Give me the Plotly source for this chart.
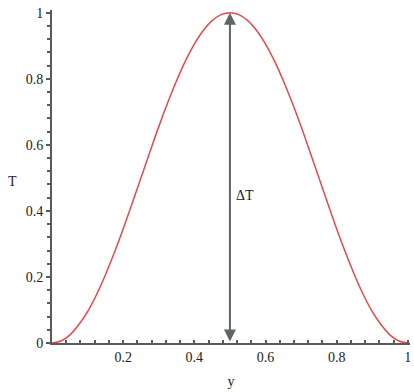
import plotly.graph_objects as go

# data
y_vals = [0.0, 0.025, 0.05, 0.075, 0.1, 0.125, 0.15, 0.175, 0.2, 0.225, 0.25,
          0.275, 0.3, 0.325, 0.35, 0.375, 0.4, 0.425, 0.45, 0.475, 0.5,
          0.525, 0.55, 0.575, 0.6, 0.625, 0.65, 0.675, 0.7, 0.725, 0.75,
          0.775, 0.8, 0.825, 0.85, 0.875, 0.9, 0.925, 0.95, 0.975, 1.0]
T_vals = [0.0, 0.006, 0.024, 0.055, 0.095, 0.146, 0.206, 0.273, 0.345, 0.422, 0.5,
          0.578, 0.655, 0.727, 0.794, 0.854, 0.905, 0.946, 0.976, 0.994, 1.0,
          0.994, 0.976, 0.946, 0.905, 0.854, 0.794, 0.727, 0.655, 0.578, 0.5,
          0.422, 0.345, 0.273, 0.206, 0.146, 0.095, 0.055, 0.024, 0.006, 0.0]
x_ticks = [0.2, 0.4, 0.6, 0.8, 1]
x_ticklabels = ["0.2", "0.4", "0.6", "0.8", "1"]
y_ticks = [0, 0.2, 0.4, 0.6, 0.8, 1]
y_ticklabels = ["0", "0.2", "0.4", "0.6", "0.8", "1"]
arrow_x = 0.5
arrow_lo, arrow_hi = 0.0, 1.0
delta_label = "ΔT"
x_title = "y"
y_title = "T"

axis_color = "#5a5a5a"
font = dict(family="Liberation Serif", size=14, color="#222")

fig = go.Figure()
fig.add_trace(go.Scatter(x=y_vals, y=T_vals, mode="lines",
                         line=dict(color="#e8474c", width=1.5, shape="spline"),
                         showlegend=False, hoverinfo="skip"))

fig.add_annotation(x=arrow_x, y=arrow_hi, ax=arrow_x, ay=arrow_lo,
                   xref="x", yref="y", axref="x", ayref="y",
                   showarrow=True, arrowhead=2, arrowside="end+start",
                   arrowsize=1.2, arrowwidth=2, arrowcolor="#5f6466", text="")
fig.add_annotation(x=arrow_x, y=0.445, xref="x", yref="y", text=delta_label,
                   showarrow=False, xanchor="left", xshift=4, font=font)
fig.add_annotation(x=0, y=0.49, xref="paper", yref="y", text=y_title,
                   showarrow=False, xanchor="center", xshift=-40, font=font)

fig.update_layout(
    width=414, height=392,
    margin=dict(l=52, r=4, t=10, b=49),
    paper_bgcolor="white", plot_bgcolor="white",
    font=font,
    xaxis=dict(range=[0, 1.006], showgrid=False, zeroline=False,
               showline=True, linecolor=axis_color, linewidth=2,
               ticks="inside", ticklen=3, tickwidth=1.5, tickcolor=axis_color,
               tickvals=x_ticks, ticktext=x_ticklabels,
               minor=dict(dtick=0.04, ticks="inside", ticklen=3, tickwidth=1.5,
                          tickcolor=axis_color, tick0=0),
               title=dict(text=x_title, standoff=12, font=font)),
    yaxis=dict(range=[0, 1.008], showgrid=False, zeroline=False,
               showline=True, linecolor=axis_color, linewidth=2,
               ticks="outside", ticklen=4, tickwidth=1.5, tickcolor=axis_color,
               tickvals=y_ticks, ticktext=y_ticklabels,
               minor=dict(dtick=0.04, ticks="outside", ticklen=3, tickwidth=1.5,
                          tickcolor=axis_color, tick0=0)),
)

fig.write_html("out.html", config={"displayModeBar": False},
               post_script="document.body.style.margin='0';")
